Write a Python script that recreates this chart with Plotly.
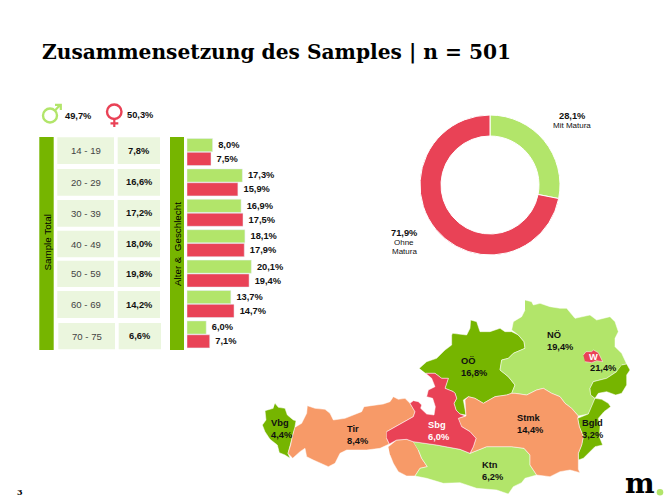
import plotly.graph_objects as go

# values
ages = ["14 - 19", "20 - 29", "30 - 39", "40 - 49", "50 - 59", "60 - 69", "70 - 75"]
total = [7.8, 16.6, 17.2, 18.0, 19.8, 14.2, 6.6]
men = [8.0, 17.3, 16.9, 18.1, 20.1, 13.7, 6.0]
women = [7.5, 15.9, 17.5, 17.9, 19.4, 14.7, 7.1]
gender_share = [49.7, 50.3]
edu_names = ["Mit Matura", "Ohne Matura"]
edu_values = [28.1, 71.9]

# map outlines (unit = 1/3 px, origin top left of map box)
vbg = [(75,340),(85,352),(105,355),(112,375),(130,390),(138,392),(134,415),(127,440),(120,470),(114,490),(120,505),(105,495),(88,488),(82,465),(60,448),(45,425),(37,405),(48,390),(45,362),(70,355)]
tir = [(138,410),(155,400),(170,370),(172,347),(195,355),(225,358),(240,370),(250,390),(285,385),(310,375),(335,365),(342,350),(400,342),(420,335),(430,320),(445,328),(465,325),(480,340),(495,365),(490,380),(465,395),(440,408),(410,425),(410,445),(418,462),(390,475),(350,480),(290,480),(270,490),(255,520),(235,530),(210,520),(190,510),(170,500),(165,475),(150,485),(128,505),(114,490),(122,465),(127,440),(134,415)]
osttirol = [(415,470),(440,450),(470,448),(490,455),(505,480),(515,505),(532,530),(510,535),(495,558),(470,558),(445,545),(430,520),(420,495)]
sbg = [(410,425),(440,408),(465,395),(490,380),(495,365),(480,340),(490,332),(505,335),(515,345),(512,355),(530,372),(552,375),(556,350),(548,325),(530,320),(535,300),(555,290),(545,265),(527,250),(555,250),(575,265),(595,265),(585,295),(610,305),(615,310),(620,325),(612,340),(618,360),(630,372),(645,378),(625,385),(635,410),(660,425),(678,445),(670,470),(660,490),(630,478),(560,465),(490,455),(470,448),(440,450),(418,462),(410,445)]
ooe = [(508,235),(530,215),(560,205),(585,180),(605,165),(605,135),(608,130),(650,135),(660,115),(662,90),(680,95),(690,125),(720,125),(750,115),(765,125),(785,125),(805,135),(822,155),(825,175),(790,190),(775,205),(755,210),(750,240),(775,260),(795,285),(785,310),(770,315),(735,320),(700,340),(675,325),(655,320),(640,330),(648,375),(630,372),(618,360),(612,340),(620,325),(615,310),(610,305),(585,295),(595,265),(575,265),(555,250),(527,250)]
noe = [(825,30),(845,35),(850,45),(870,40),(900,50),(930,55),(950,55),(975,85),(1020,75),(1040,90),(1080,80),(1095,95),(1105,125),(1095,145),(1095,170),(1115,190),(1130,222),(1115,225),(1100,245),(1070,265),(1030,275),(1020,295),(1022,315),(1035,325),(1025,350),(1015,372),(985,378),(965,355),(945,340),(930,320),(905,310),(880,295),(860,300),(830,315),(795,310),(785,310),(795,285),(775,260),(750,240),(755,210),(775,205),(790,190),(825,175),(822,155),(805,135),(785,120),(790,95),(815,80),(825,60)]
wien = [(1000,195),(1008,185),(1025,185),(1030,180),(1045,188),(1052,205),(1058,215),(1040,212),(1025,218),(1005,215)]
bgld = [(1115,225),(1130,222),(1140,240),(1130,255),(1130,285),(1115,310),(1097,315),(1070,305),(1045,310),(1035,325),(1055,328),(1075,340),(1082,350),(1062,365),(1045,385),(1050,410),(1048,440),(1058,465),(1035,470),(1015,490),(1000,505),(985,510),(985,490),(995,465),(1000,440),(988,410),(983,385),(1015,372),(1025,350),(1035,325),(1022,315),(1020,295),(1030,275),(1070,265),(1100,245)]
stmk = [(625,385),(648,378),(645,330),(655,320),(675,325),(700,340),(735,320),(770,315),(785,310),(795,310),(830,315),(860,300),(880,295),(905,310),(930,320),(945,340),(965,355),(985,378),(983,385),(988,410),(1000,440),(995,465),(985,490),(985,510),(985,538),(990,548),(960,540),(930,545),(900,560),(860,555),(840,525),(840,495),(822,475),(785,470),(730,470),(710,470),(685,480),(660,490),(670,470),(678,445),(660,425),(635,410)]
ktn = [(490,455),(560,465),(630,478),(660,490),(685,480),(710,470),(785,470),(822,475),(840,495),(840,525),(860,555),(825,565),(815,578),(790,590),(775,612),(740,600),(680,595),(630,578),(580,580),(530,565),(495,558),(510,535),(532,530),(515,505),(505,480)]

regions = [
    ("Vbg", vbg, "dark"), ("Tir", tir, "orange"), ("Tir Ost", osttirol, "orange"),
    ("Ktn", ktn, "lime"), ("OÖ", ooe, "dark"), ("NÖ", noe, "lime"),
    ("Bgld", bgld, "dark"), ("Stmk", stmk, "orange"), ("Sbg", sbg, "red"), ("W", wien, "red"),
]
region_labels = [
    ("Vbg", 4.4, 270.7, 428.8), ("Tir", 8.4, 346.3, 434.5), ("Sbg", 6.0, 427.3, 430.5),
    ("OÖ", 16.8, 460, 366.5), ("NÖ", 19.4, 546.7, 341), ("Stmk", 14.4, 516, 423.8),
    ("Bgld", 3.2, 581.7, 429), ("Ktn", 6.2, 481.7, 470.8),
]

colors = {"dark": "#76B500", "lime": "#B2E56A", "red": "#E94256", "orange": "#F79A68"}
cell_color = "#EBF6DE"
sans = "Liberation Sans"
serif = "DejaVu Serif"


def pct(v):
    return f"{v:.1f}".replace(".", ",") + "%"


def bar_label(v):
    # small gap between bar end and its label
    return f"\u00a0<b>{pct(v)}</b>"


def note(x, y, text, size=9.3, color="#111111", bold=False, xanchor="center", angle=0, font=sans):
    if bold:
        text = f"<b>{text}</b>"
    if xanchor == "left":
        x -= 1.5  # annotation box padding
    fig.add_annotation(x=x, y=y, xref="x", yref="y", text=text, showarrow=False, xanchor=xanchor,
                       yanchor="middle", align=xanchor if xanchor != "center" else "center",
                       textangle=angle, font=dict(family=font, size=size, color=color))


def box(x0, y0, x1, y1, color):
    fig.add_shape(type="rect", x0=x0, y0=y0, x1=x1, y1=y1, xref="x", yref="y",
                  fillcolor=color, line_width=0, layer="below")


fig = go.Figure()

# age / gender bars
fig.add_trace(go.Bar(y=ages, x=men, orientation="h", name="Männer", marker_color=colors["lime"],
                     text=[bar_label(v) for v in men], textposition="outside", xaxis="x2", yaxis="y2",
                     cliponaxis=False, textfont=dict(family=sans, size=9.3, color="#111111")))
fig.add_trace(go.Bar(y=ages, x=women, orientation="h", name="Frauen", marker_color=colors["red"],
                     text=[bar_label(v) for v in women], textposition="outside", xaxis="x2", yaxis="y2",
                     cliponaxis=False, textfont=dict(family=sans, size=9.3, color="#111111")))

# education donut
fig.add_trace(go.Pie(labels=edu_names, values=edu_values, hole=0.7, sort=False, direction="clockwise",
                     rotation=0, textinfo="none", marker=dict(colors=[colors["lime"], colors["red"]],
                     line=dict(color="white", width=1)),
                     domain=dict(x=[420 / 670, 560 / 670], y=[245 / 500, 385 / 500])))

# map
for name, outline, col in regions:
    fig.add_trace(go.Scatter(x=[p[0] for p in outline], y=[p[1] for p in outline], name=name, mode="lines",
                             fill="toself", fillcolor=colors[col], line=dict(color="white", width=0.5),
                             xaxis="x3", yaxis="y3", hoverinfo="name"))

# title, page number, logo
note(41, 52, "Zusammensetzung des Samples | n = 501", size=20.2, color="black", bold=True, xanchor="left", font=serif)
note(19.5, 491.7, "3", size=8, color="black", bold=True, font=serif)
note(640, 483, "m", size=28, color="black", bold=True, font=serif)
fig.add_shape(type="circle", x0=656.7, y0=489, x1=663.3, y1=495.6, xref="x", yref="y",
              fillcolor=colors["lime"], line_width=0)

# gender icons
fig.add_shape(type="circle", x0=43, y0=108.5, x1=57, y1=122.5, xref="x", yref="y",
              line=dict(color=colors["lime"], width=2.4))
fig.add_shape(type="path", path="M 55 110.5 L 60.5 104.5 M 55 104.8 L 60.8 104.8 L 60.8 110", xref="x", yref="y",
              line=dict(color=colors["lime"], width=2.2))
fig.add_shape(type="circle", x0=107, y0=104.5, x1=121.5, y1=119, xref="x", yref="y",
              line=dict(color=colors["red"], width=2.4))
fig.add_shape(type="path", path="M 114.3 119 L 114.3 127 M 110.5 123.3 L 118.3 123.3", xref="x", yref="y",
              line=dict(color=colors["red"], width=2.2))
note(64, 115.7, pct(gender_share[0]), bold=True, xanchor="left")
note(126.3, 115.3, pct(gender_share[1]), bold=True, xanchor="left")

# side bands
box(39.3, 137, 53.7, 350, colors["dark"])
box(170, 137, 184, 350, colors["dark"])
note(46.5, 243, "Sample Total", size=9.8, color="black", angle=-90)
note(177, 244, "Alter &  Geschlecht", size=9.8, color="black", angle=-90)

# table
row_tops = [137.3, 169, 200, 230.7, 260.7, 291, 323]
row_bottoms = [164, 195.7, 226.7, 257.3, 287, 318, 349.3]
for i, age in enumerate(ages):
    shift = 1 if i == len(ages) - 1 else 0
    box(57.3 + shift, row_tops[i], 114 + shift, row_bottoms[i], cell_color)
    box(117.7 + shift, row_tops[i], 160 + shift, row_bottoms[i], cell_color)
    mid = (row_tops[i] + row_bottoms[i]) / 2
    note(85.7 + shift, mid, age, size=9.6, color="#444444")
    note(139 + shift, mid, pct(total[i]), size=9.3, bold=True)

# donut labels
note(572, 115.7, pct(edu_values[0]), bold=True)
note(572, 125.3, "Mit Matura", size=8)
note(404.3, 233.3, pct(edu_values[1]), bold=True)
note(404.3, 242.7, "Ohne", size=8)
note(404.3, 251, "Matura", size=8)

# map labels
for name, val, x, y in region_labels:
    col = "white" if name == "Sbg" else "#111111"
    note(x, y, f"{name}<br>{pct(val)}", size=9.3, color=col, bold=True, xanchor="left")
note(593.3, 356.7, "W", size=9.3, color="white", bold=True)
note(589.3, 368.3, "21,4%", bold=True, xanchor="left")

fig.update_layout(
    width=670, height=500, margin=dict(l=0, r=0, t=0, b=0), showlegend=False,
    paper_bgcolor="white", plot_bgcolor="rgba(0,0,0,0)", barmode="group", bargap=0.09, bargroupgap=0.05,
    xaxis=dict(domain=[0, 1], range=[0, 670], visible=False, fixedrange=True),
    yaxis=dict(domain=[0, 1], range=[500, 0], visible=False, fixedrange=True),
    xaxis2=dict(domain=[187 / 670, 283 / 670], range=[0, 30], visible=False, anchor="y2"),
    yaxis2=dict(domain=[150.4 / 500, 363.2 / 500], autorange="reversed", visible=False, anchor="x2"),
    xaxis3=dict(domain=[250 / 670, 660 / 670], range=[0, 1230], visible=False, anchor="y3"),
    yaxis3=dict(domain=[5 / 500, 210 / 500], range=[615, 0], visible=False, anchor="x3"),
)

fig.write_html("out.html", config={"displayModeBar": False}, post_script="document.body.style.margin='0';")
